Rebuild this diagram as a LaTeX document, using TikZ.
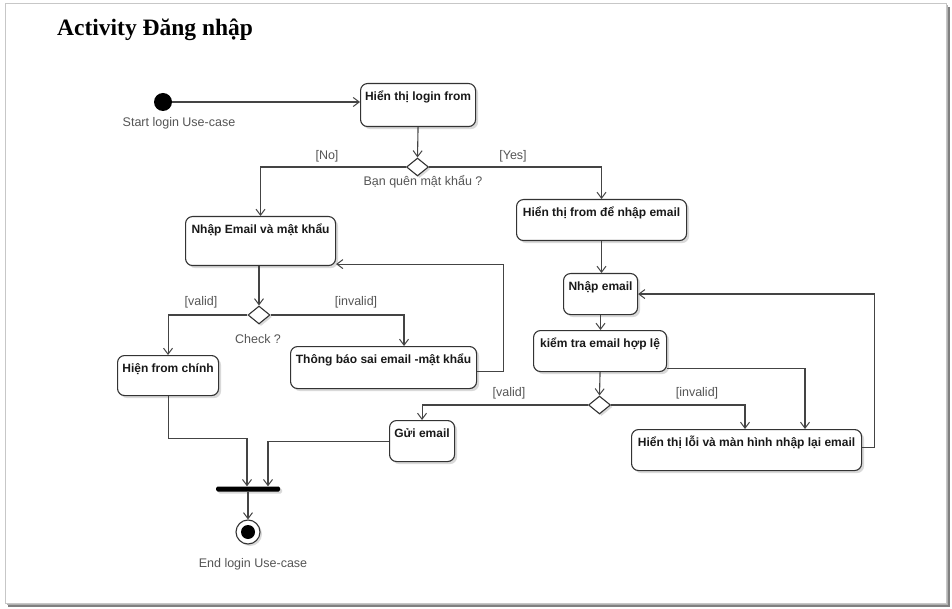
\documentclass[tikz,border=0pt]{standalone}
\usepackage{fontspec}
\setmainfont{Liberation Serif}
\setsansfont{Liberation Sans}
\usetikzlibrary{arrows.meta,shapes.geometric,shadows}

\definecolor{linec}{HTML}{444444}
\definecolor{boxc}{HTML}{333333}
\definecolor{labelc}{HTML}{555555}

\begin{document}
\begin{tikzpicture}[x=1pt,y=-1pt,
  flow/.style={draw=linec, line width=1.1pt,
    -{Straight Barb[length=6pt,width=9pt,line width=1pt]}},
  act/.style={draw=boxc, line width=1.1pt, rounded corners=7pt, fill=white,
    anchor=north west, inner xsep=2pt, inner ysep=0pt, text height=17pt,
    font=\sffamily\bfseries\fontsize{12}{14}\selectfont, text=black!90,
    drop shadow={shadow xshift=2.5pt, shadow yshift=-2.5pt, opacity=0.15, fill=black}},
  decision/.style={diamond, draw=boxc, line width=1.1pt, fill=white,
    minimum width=22pt, minimum height=18pt, inner sep=0pt,
    drop shadow={shadow xshift=2pt, shadow yshift=-2pt, opacity=0.15, fill=black}},
  guard/.style={font=\sffamily\fontsize{12.5}{14}\selectfont, text=labelc, inner sep=0pt},
]
\useasboundingbox (0,0) rectangle (952,609);

% page frame with its shadow
\fill[black!50] (8,7) rectangle (950,607);
\fill[black!30] (7,5) rectangle (948,605);
\draw[black!22, fill=white, line width=0.8pt] (5,3) rectangle (946,603);

% title
\node[anchor=base west, inner sep=0pt, font=\bfseries\fontsize{23.5}{27}\selectfont] (title) at (57,36) {Activity Đăng nhập};

% start and end
\node[circle, fill=black, minimum size=18pt, inner sep=0pt] (start) at (163,102) {};
\node[guard] (startlbl) at (179,123) {Start login Use-case};

% actions
\node[act, minimum width=115pt, text depth=26pt] (b1) at (360,83) {Hiển thị login from};
\node[act, minimum width=150pt, text depth=32pt] (b2) at (185,216) {Nhập Email và mật khẩu};
\node[act, minimum width=170pt, text depth=24pt] (b3) at (516,199) {Hiển thị from để nhập email};
\node[act, minimum width=74pt, text depth=24pt] (b4) at (563,273) {Nhập email};
\node[act, minimum width=133pt, text depth=24pt] (b5) at (533,330) {kiểm tra email hợp lệ};
\node[act, minimum width=101pt, text depth=23pt] (b6) at (117,355) {Hiện from chính};
\node[act, minimum width=186pt, text depth=25pt] (b7) at (290,346) {Thông báo sai email -mật khẩu};
\node[act, minimum width=65pt, text depth=24pt] (b8) at (389,420) {Gửi email};
\node[act, minimum width=230pt, text depth=24pt] (b9) at (631,429) {Hiển thị lỗi và màn hình nhập lại email};

% decisions
\node[decision] (d1) at (417.5,167) {};
\node[decision] (d2) at (259,315) {};
\node[decision] (d3) at (599.5,405) {};

% join bar and final state
\node[fill=black, minimum width=64pt, minimum height=5pt, inner sep=0pt, rounded corners=1.5pt,
  drop shadow={shadow xshift=2pt, shadow yshift=-2pt, opacity=0.15, fill=black}] (bar) at (248,489) {};
\node[circle, draw=boxc, line width=1.1pt, fill=white, minimum size=24pt, inner sep=0pt,
  drop shadow={shadow xshift=2pt, shadow yshift=-2pt, opacity=0.15, fill=black}] (end) at (248,532) {};
\node[circle, fill=black, minimum size=14pt, inner sep=0pt] (endcore) at (end) {};
\node[guard] (endlbl) at (253,564) {End login Use-case};

% guards and decision names
\node[guard] (gno) at (327,156) {[No]};
\node[guard] (gyes) at (513,156) {[Yes]};
\node[guard] (q1) at (423,182) {Bạn quên mật khẩu ?};
\node[guard] (gv1) at (201,302) {[valid]};
\node[guard] (gi1) at (356,302) {[invalid]};
\node[guard] (q2) at (258,339) {Check ?};
\node[guard] (gv2) at (509,393) {[valid]};
\node[guard] (gi2) at (697,393) {[invalid]};

% flows
\draw[flow] (start) -- (start -| b1.west);
\draw[flow] (b1.south) -- (d1.north);
\draw[flow] (d1.west) -| (b2.north);
\draw[flow] (d1.east) -| (b3.north);
\draw[flow] (b3.south) -- (b3.south |- b4.north);
\draw[flow] (b4.south) -- (b4.south |- b5.north);
\draw[flow] (b5.south) -- (d3.north);
\draw[flow] ([yshift=4pt]b5.south east) -| ([xshift=174pt]b9.north west);
\draw[flow] (d3.east) -| ([xshift=114pt]b9.north west);
\draw[flow] (d3.west) -| (b8.north);
\draw[flow] ([yshift=3pt]b9.east) -- ++(12,0) |- (b4.east);
\draw[flow] (b2.south -| d2) -- (d2.north);
\draw[flow] (d2.west) -| (b6.north);
\draw[flow] (d2.east) -| ([xshift=114pt]b7.north west);
\draw[flow] ([yshift=-4pt]b7.east) -- ++(26,0) |- ([yshift=2pt]b2.south east);
\draw[flow] (b6.south) -- ++(0,42) -| ([xshift=-1pt]bar.north);
\draw[flow] (b8.west) -| ([xshift=20pt]bar.north);
\draw[flow] (bar.south) -- (end.north);

\end{tikzpicture}
\end{document}
